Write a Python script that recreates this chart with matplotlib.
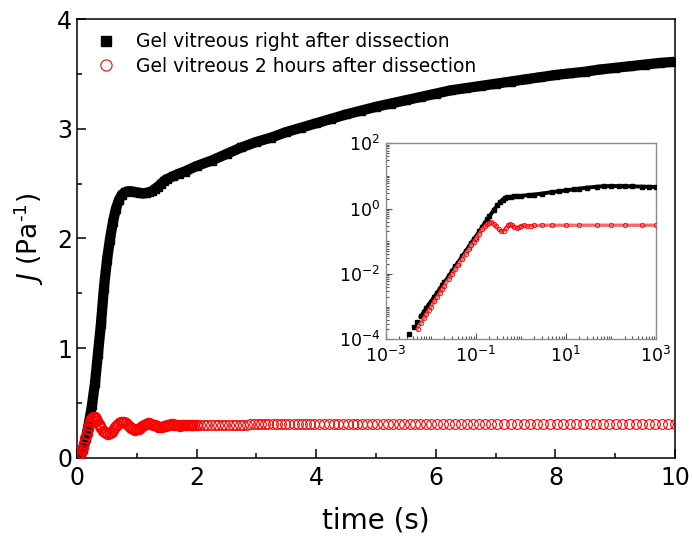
import matplotlib
matplotlib.use("Agg")
import matplotlib.pyplot as plt
from matplotlib.ticker import MultipleLocator, LogLocator, FixedLocator, NullFormatter

# ---- main plot: black squares, gel right after dissection ----
t_black = [0.0, 0.05, 0.10, 0.15, 0.20, 0.25, 0.30, 0.35, 0.40, 0.45, 0.50, 0.55,
           0.60, 0.65, 0.70, 0.75, 0.80, 0.85, 0.90, 0.95, 1.00, 1.05, 1.10, 1.15,
           1.20, 1.25, 1.30, 1.35, 1.40, 1.45, 1.50, 1.60, 1.70, 1.80, 2.00, 2.25,
           2.50, 2.75, 3.00, 3.25, 3.50, 3.75, 4.00, 4.25, 4.50, 4.75, 5.00, 5.25,
           5.50, 5.75, 6.00, 6.25, 6.50, 6.75, 7.00, 7.25, 7.50, 7.75, 8.00, 8.25,
           8.50, 8.75, 9.00, 9.25, 9.50, 9.75, 10.0]
J_black = [0.0, 0.02, 0.08, 0.18, 0.32, 0.48, 0.68, 0.95, 1.22, 1.55, 1.80, 1.99,
           2.15, 2.27, 2.35, 2.40, 2.42, 2.43, 2.43, 2.425, 2.42, 2.415, 2.41, 2.415,
           2.42, 2.43, 2.45, 2.47, 2.495, 2.52, 2.54, 2.565, 2.59, 2.61, 2.66, 2.71,
           2.77, 2.83, 2.88, 2.92, 2.97, 3.01, 3.05, 3.09, 3.13, 3.165, 3.20, 3.23,
           3.26, 3.29, 3.32, 3.35, 3.37, 3.39, 3.41, 3.43, 3.45, 3.47, 3.49, 3.505,
           3.52, 3.54, 3.555, 3.57, 3.585, 3.60, 3.61]

# ---- main plot: red open circles, gel 2 hours after dissection ----
t_red = [0.00, 0.02, 0.04, 0.06, 0.08, 0.10, 0.12, 0.14, 0.16, 0.18, 0.20, 0.22,
         0.24, 0.26, 0.28, 0.30, 0.32, 0.34, 0.36, 0.38, 0.40, 0.43, 0.46, 0.49,
         0.52, 0.55, 0.58, 0.61, 0.64, 0.67, 0.70, 0.73, 0.76, 0.79, 0.82, 0.85,
         0.88, 0.91, 0.94, 0.97, 1.00, 1.03, 1.06, 1.09, 1.12, 1.15, 1.18, 1.21,
         1.24, 1.27, 1.30, 1.33, 1.36, 1.39, 1.42, 1.45, 1.48, 1.51, 1.54, 1.57,
         1.60, 1.63, 1.66, 1.69, 1.72, 1.75, 1.78, 1.81, 1.84, 1.87, 1.90, 1.93,
         1.96, 2.00]
J_red = [0.0, 0.01, 0.025, 0.045, 0.07, 0.10, 0.14, 0.18, 0.22, 0.26, 0.30, 0.33,
         0.355, 0.37, 0.375, 0.37, 0.355, 0.335, 0.31, 0.29, 0.27, 0.25, 0.235, 0.225,
         0.22, 0.225, 0.235, 0.255, 0.28, 0.305, 0.32, 0.33, 0.33, 0.325, 0.315, 0.30,
         0.285, 0.27, 0.262, 0.258, 0.26, 0.265, 0.275, 0.29, 0.30, 0.31, 0.315, 0.315,
         0.31, 0.305, 0.298, 0.29, 0.285, 0.283, 0.285, 0.29, 0.295, 0.30, 0.305, 0.308,
         0.308, 0.305, 0.30, 0.297, 0.295, 0.296, 0.298, 0.30, 0.303, 0.305, 0.305, 0.303,
         0.30, 0.30]
t_red_tail = [2.06, 2.12, 2.18, 2.24, 2.30, 2.36, 2.42, 2.48, 2.54, 2.60, 2.66, 2.72,
              2.78, 2.84, 2.90, 2.96, 3.02, 3.08, 3.14, 3.20, 3.27, 3.34, 3.41, 3.48,
              3.55, 3.62, 3.69, 3.76, 3.83, 3.90, 3.97, 4.05, 4.13, 4.21, 4.29, 4.37,
              4.45, 4.53, 4.61, 4.69, 4.77, 4.85, 4.93, 5.02, 5.11, 5.20, 5.29, 5.38,
              5.47, 5.56, 5.65, 5.74, 5.83, 5.92, 6.02, 6.12, 6.22, 6.32, 6.42, 6.52,
              6.62, 6.72, 6.82, 6.92, 7.03, 7.14, 7.25, 7.36, 7.47, 7.58, 7.69, 7.80,
              7.91, 8.02, 8.13, 8.24, 8.35, 8.46, 8.57, 8.68, 8.79, 8.90, 9.01, 9.12,
              9.23, 9.34, 9.45, 9.56, 9.67, 9.78, 9.89, 10.0]
J_red_tail = [0.301, 0.302, 0.302, 0.303, 0.303, 0.303, 0.304, 0.304, 0.304, 0.305, 0.305, 0.305,
              0.305, 0.305, 0.306, 0.306, 0.306, 0.306, 0.306, 0.306, 0.307, 0.307, 0.307, 0.307,
              0.307, 0.307, 0.307, 0.307, 0.308, 0.308, 0.308, 0.308, 0.308, 0.308, 0.308, 0.308,
              0.308, 0.308, 0.308, 0.308, 0.308, 0.308, 0.308, 0.308, 0.309, 0.309, 0.309, 0.309,
              0.309, 0.309, 0.309, 0.309, 0.309, 0.309, 0.309, 0.309, 0.309, 0.309, 0.309, 0.309,
              0.309, 0.309, 0.309, 0.309, 0.309, 0.309, 0.309, 0.309, 0.309, 0.309, 0.309, 0.309,
              0.309, 0.309, 0.309, 0.309, 0.309, 0.309, 0.309, 0.309, 0.309, 0.309, 0.309, 0.309,
              0.309, 0.309, 0.309, 0.309, 0.309, 0.309, 0.309, 0.309]

# ---- inset (log-log, long times) ----
ti_black = [0.00324, 0.00418, 0.00506, 0.006, 0.007, 0.008, 0.009, 0.010, 0.012, 0.014,
            0.016, 0.018, 0.02, 0.025, 0.03, 0.035, 0.04, 0.05, 0.06, 0.07, 0.08, 0.09,
            0.1, 0.12, 0.14, 0.16, 0.18, 0.2, 0.25, 0.3, 0.35, 0.4, 0.45, 0.5, 0.6, 0.7,
            0.8, 1.0, 1.5, 2, 3, 5, 7, 10, 15, 20, 30, 50, 70, 100, 150, 200, 300, 500,
            700, 1000]
Ji_black = [1.5e-4, 2.4e-4, 3.5e-4, 5e-4, 6.8e-4, 9e-4, 1.15e-3, 1.4e-3, 2.0e-3, 2.7e-3,
            3.5e-3, 4.5e-3, 5.5e-3, 8.5e-3, 1.25e-2, 1.7e-2, 2.2e-2, 3.5e-2, 5e-2, 6.8e-2,
            9e-2, 0.115, 0.14, 0.2, 0.28, 0.37, 0.47, 0.58, 0.9, 1.25, 1.6, 1.9, 2.1, 2.2,
            2.3, 2.35, 2.4, 2.45, 2.6, 2.7, 2.9, 3.2, 3.4, 3.6, 3.9, 4.1, 4.4, 4.7, 4.85,
            4.9, 4.9, 4.85, 4.8, 4.7, 4.65, 4.6]
ti_red = [0.0051, 0.006, 0.007, 0.008, 0.009, 0.010, 0.012, 0.014, 0.016, 0.018, 0.02,
          0.025, 0.03, 0.035, 0.04, 0.05, 0.06, 0.07, 0.08, 0.09, 0.1, 0.12, 0.14, 0.16,
          0.18, 0.2, 0.22, 0.25, 0.28, 0.32, 0.37, 0.42, 0.47, 0.52, 0.57, 0.63, 0.7, 0.8,
          0.9, 1.0, 1.2, 1.4, 1.7, 2, 3, 5, 10, 20, 50, 100, 200, 500, 1000]
Ji_red = [2.1e-4, 3.2e-4, 4.5e-4, 6e-4, 7.8e-4, 9.8e-4, 1.45e-3, 2.0e-3, 2.7e-3, 3.5e-3,
          4.3e-3, 7e-3, 1.0e-2, 1.4e-2, 1.85e-2, 2.9e-2, 4.2e-2, 5.7e-2, 7.5e-2, 9.5e-2,
          0.12, 0.17, 0.23, 0.29, 0.34, 0.37, 0.38, 0.35, 0.29, 0.23, 0.2, 0.21, 0.26,
          0.31, 0.33, 0.31, 0.27, 0.25, 0.27, 0.30, 0.31, 0.29, 0.30, 0.305, 0.31, 0.31,
          0.31, 0.31, 0.31, 0.31, 0.31, 0.31, 0.31]

legend_labels = ["Gel vitreous right after dissection",
                 "Gel vitreous 2 hours after dissection"]

plt.rcParams['font.family'] = 'DejaVu Sans'

fig = plt.figure(figsize=(6.92, 5.46), dpi=100)
ax = fig.add_axes([0.1113, 0.1612, 0.8642, 0.804])

# black band: thick line under dense squares
ax.plot(t_black, J_black, '-', color='black', lw=7.4, zorder=2,
        solid_capstyle='butt')
ax.plot(t_black, J_black, 's', color='black', ms=6, zorder=3,
        label=legend_labels[0])
# early red points overlap heavily -> slightly heavier outlines
ax.plot(t_red, J_red, 'o', mfc='none', mec='red', ms=7, mew=1.2, zorder=4)
ax.plot(t_red_tail, J_red_tail, 'o', mfc='none', mec='red', ms=7, mew=0.8,
        zorder=4, label=legend_labels[1])

ax.set_xlim(0, 10)
ax.set_ylim(0, 4)
ax.xaxis.set_major_locator(MultipleLocator(2))
ax.xaxis.set_minor_locator(MultipleLocator(1))
ax.yaxis.set_major_locator(MultipleLocator(1))
ax.yaxis.set_minor_locator(MultipleLocator(0.5))
ax.tick_params(which='both', direction='in', top=False, right=False,
               labelsize=17, width=1.1)
ax.tick_params(which='major', length=6.5)
ax.tick_params(which='minor', length=3.6)
ax.tick_params(axis='x', pad=6)
for s in ax.spines.values():
    s.set_linewidth(1.1)
ax.set_xlabel("time (s)", fontsize=20, labelpad=12)
ax.set_ylabel(r"$\it{J}$ (Pa$^{\text{-1}}$)", fontsize=19, labelpad=8)

leg = ax.legend(loc='upper left', frameon=False, fontsize=13.5, numpoints=1,
                markerscale=1.15, handlelength=1.2, handletextpad=1.0,
                borderaxespad=0.3, labelspacing=0.3,
                bbox_to_anchor=(0.008, 1.0))

# inset
axi = fig.add_axes([0.5574, 0.3786, 0.3906, 0.359])
axi.plot(ti_black[3:], Ji_black[3:], '-', color='black', lw=2.8, zorder=2)
axi.plot(ti_black, Ji_black, 's', color='black', ms=2.8, zorder=3)
axi.plot(ti_red, Ji_red, '-', color='#f26a6a', lw=2.4, zorder=4)
axi.plot(ti_red, Ji_red, 'o', mfc='none', mec='red', ms=3.2, mew=0.6, zorder=5)
axi.set_xscale('log')
axi.set_yscale('log')
axi.set_xlim(1e-3, 1e3)
axi.set_ylim(1e-4, 1e2)
axi.xaxis.set_major_locator(FixedLocator([1e-3, 1e-1, 1e1, 1e3]))
axi.yaxis.set_major_locator(FixedLocator([1e-4, 1e-2, 1e0, 1e2]))
axi.xaxis.set_minor_locator(LogLocator(base=10, subs=range(1, 10), numticks=20))
axi.yaxis.set_minor_locator(LogLocator(base=10, subs=range(1, 10), numticks=20))
axi.xaxis.set_minor_formatter(NullFormatter())
axi.yaxis.set_minor_formatter(NullFormatter())
axi.tick_params(which='both', direction='in', top=False, right=False,
                labelsize=12.5, color='#555555', width=0.8)
axi.tick_params(which='major', length=4)
axi.tick_params(which='minor', length=2)
axi.tick_params(axis='x', pad=5)
axi.tick_params(axis='y', pad=4)
for s in axi.spines.values():
    s.set_color('#8c8c8c')
    s.set_linewidth(1.0)

fig.savefig("out.png", dpi=100)
